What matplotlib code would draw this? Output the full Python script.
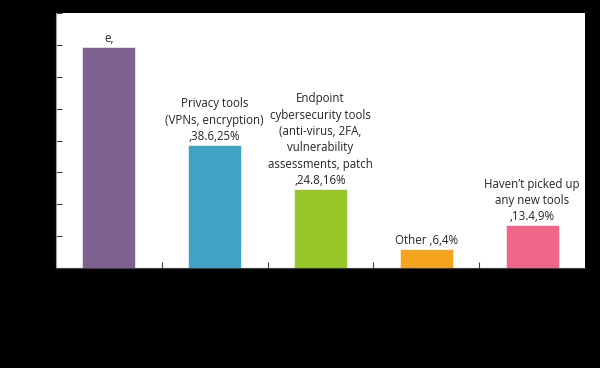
import numpy as np
import matplotlib.pyplot as plt

# Werte
categories = [
    "e,",
    "Privacy tools\n(VPNs, encryption)\n,38.6,25%",
    "Endpoint\ncybersecurity tools\n(anti-virus, 2FA,\nvulnerability\nassessments, patch\n,24.8,16%",
    "Other ,6,4%",
    "Haven\u2019t picked up\nany new tools\n,13.4,9%",
]
values = [69.4, 38.6, 24.8, 6.0, 13.4]
colors = ["#7E6091", "#40A3C3", "#98C729", "#F5A51D", "#EF6689"]

fig = plt.figure(figsize=(6, 3.68), dpi=100)
fig.set_facecolor("black")
ax = fig.add_axes([56 / 600, 1 - 268 / 368, (585 - 56) / 600, (268 - 13) / 368])
ax.set_facecolor("white")

x = np.arange(len(values))
ax.bar(x, values, width=0.5, color=colors, edgecolor="white", linewidth=0.4)

for xi, v, lab in zip(x, values, categories):
    ax.annotate(lab, xy=(xi, v), xytext=(0, 1.5), textcoords="offset points",
                ha="center", va="bottom", fontsize=8.3, color="#262626",
                family="Open Sans", linespacing=1.33)

ax.set_xlim(-0.5, len(values) - 0.5)
ax.set_ylim(0, 80)
ax.set_yticks(np.arange(0, 81, 10))
ax.set_yticklabels([str(t) for t in range(0, 81, 10)], color="black")
ax.set_xticks(np.arange(0.5, len(values) - 0.5, 1))
ax.set_xticklabels([])
ax.tick_params(axis="y", direction="in", length=4, color="#404040")
ax.tick_params(axis="x", direction="in", length=4, color="#404040")

for s in ["top", "right"]:
    ax.spines[s].set_visible(False)
ax.spines["left"].set_color("#a0a0a0")
ax.spines["bottom"].set_color("#404040")

fig.savefig("out.png", dpi=100, facecolor="black")
